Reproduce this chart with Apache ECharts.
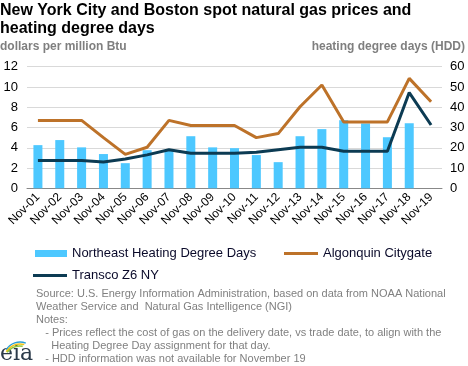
<!DOCTYPE html>
<html><head><meta charset="utf-8">
<script src="https://cdn.jsdelivr.net/npm/echarts@6/dist/echarts.min.js"></script>
<style>html,body{margin:0;padding:0;background:#fff}#c{width:468px;height:366px}</style>
</head><body><div id="c"></div>
<script>
const categories = ['Nov-01','Nov-02','Nov-03','Nov-04','Nov-05','Nov-06','Nov-07','Nov-08','Nov-09','Nov-10','Nov-11','Nov-12','Nov-13','Nov-14','Nov-15','Nov-16','Nov-17','Nov-18','Nov-19'];
const hdd = [21.3, 23.8, 20.2, 16.9, 12.4, 18.8, 19, 25.7, 20.2, 19.8, 16.4, 12.9, 25.7, 29.2, 33.6, 32, 25.2, 32.1, null];
const algonquin = [6.7, 6.7, 6.7, 5.0, 3.35, 4.05, 6.7, 6.2, 6.2, 6.2, 5.0, 5.4, 8.05, 10.2, 6.55, 6.55, 6.55, 10.85, 8.55];
const transco = [2.75, 2.75, 2.75, 2.6, 2.9, 3.3, 3.8, 3.45, 3.45, 3.45, 3.55, 3.8, 4.05, 4.05, 3.65, 3.65, 3.65, 9.45, 6.25];
const leftTicks = [0, 2, 4, 6, 8, 10, 12];
const rightTicks = [0, 10, 20, 30, 40, 50, 60];
const notes = [
  'Source: U.S. Energy Information Administration, based on data from NOAA National',
  'Weather Service and  Natural Gas Intelligence (NGI)',
  'Notes:',
  '   - Prices reflect the cost of gas on the delivery date, vs trade date, to align with the',
  '     Heating Degree Day assignment for that day.',
  '   - HDD information was not available for November 19'
];

const FONT = 'Liberation Sans, Arial, sans-serif';
const BLUE = '#4DC8FF', ORANGE = '#BD7229', NAVY = '#0C3B53';
const chart = echarts.init(document.getElementById('c'), null, {renderer: 'canvas'});

const graphics = [
  {type: 'text', left: 0, top: 2, style: {text: 'New York City and Boston spot natural gas prices and\nheating degree days', font: 'bold 16px ' + FONT, fill: '#000', lineHeight: 18}},
  {type: 'text', left: 0, top: 41, style: {text: 'dollars per million Btu', font: 'bold 12px ' + FONT, fill: '#7f7f7f'}},
  {type: 'text', right: 3, top: 41, style: {text: 'heating degree days (HDD)', font: 'bold 12px ' + FONT, fill: '#7f7f7f'}}
];
notes.forEach((t, i) => {
  graphics.push({type: 'text', left: 36, top: 288 + i * 13, style: {text: t, font: '11px ' + FONT, fill: '#808080'}});
});
// eia logo
graphics.push({type: 'text', left: 0, top: 343, style: {text: 'eia', font: '22px DejaVu Serif, serif', fill: '#2b3a4a'}});
graphics.push({type: 'arc', shape: {cx: 20, cy: 358, r: 16, startAngle: -2.6, endAngle: -1.2}, style: {stroke: '#2a9fd8', lineWidth: 1.5, fill: null}});
graphics.push({type: 'arc', shape: {cx: 20, cy: 360, r: 16, startAngle: -2.6, endAngle: -1.3}, style: {stroke: '#f2c318', lineWidth: 1.5, fill: null}});
graphics.push({type: 'arc', shape: {cx: 20, cy: 362, r: 16, startAngle: -2.5, endAngle: -1.4}, style: {stroke: '#8cc63f', lineWidth: 1.5, fill: null}});

const legText = {fontSize: 13, color: '#0a0a2a', fontFamily: FONT};
chart.setOption({
  animation: false,
  textStyle: {fontFamily: FONT},
  grid: {left: 27, right: 26, top: 66.7, bottom: 177.7, containLabel: false},
  legend: [
    {left: 30, top: 242, itemWidth: 32, itemHeight: 7, itemGap: 5, textStyle: legText,
     data: [{name: 'Northeast Heating Degree Days', icon: 'rect'}]},
    {left: 279, top: 242, itemWidth: 34, itemHeight: 3, textStyle: legText,
     data: [{name: 'Algonquin Citygate', icon: 'rect'}]},
    {left: 28, top: 264, itemWidth: 34, itemHeight: 3, textStyle: legText,
     data: [{name: 'Transco Z6 NY', icon: 'rect'}]}
  ],
  xAxis: {
    type: 'category', data: categories, boundaryGap: true,
    axisLine: {lineStyle: {color: '#888', width: 1}},
    axisTick: {show: false},
    axisLabel: {rotate: 45, fontSize: 12, color: '#000', interval: 0, margin: 7, fontFamily: FONT}
  },
  yAxis: [
    {type: 'value', min: 0, max: 12, interval: 2, position: 'left',
     axisLabel: {fontSize: 13, color: '#000', margin: 9, fontFamily: FONT},
     axisLine: {show: false}, axisTick: {show: false},
     splitLine: {lineStyle: {color: '#d9d9d9', width: 1}}},
    {type: 'value', min: 0, max: 60, interval: 10, position: 'right',
     axisLabel: {fontSize: 13, color: '#000', margin: 8, fontFamily: FONT},
     axisLine: {show: false}, axisTick: {show: false}, splitLine: {show: false}}
  ],
  series: [
    {name: 'Northeast Heating Degree Days', type: 'bar', yAxisIndex: 1, data: hdd, barWidth: 9, itemStyle: {color: BLUE}},
    {name: 'Algonquin Citygate', type: 'line', yAxisIndex: 0, data: algonquin, symbol: 'none', lineStyle: {color: ORANGE, width: 3}, itemStyle: {color: ORANGE}},
    {name: 'Transco Z6 NY', type: 'line', yAxisIndex: 0, data: transco, symbol: 'none', lineStyle: {color: NAVY, width: 3}, itemStyle: {color: NAVY}}
  ],
  graphic: graphics
});
</script></body></html>
